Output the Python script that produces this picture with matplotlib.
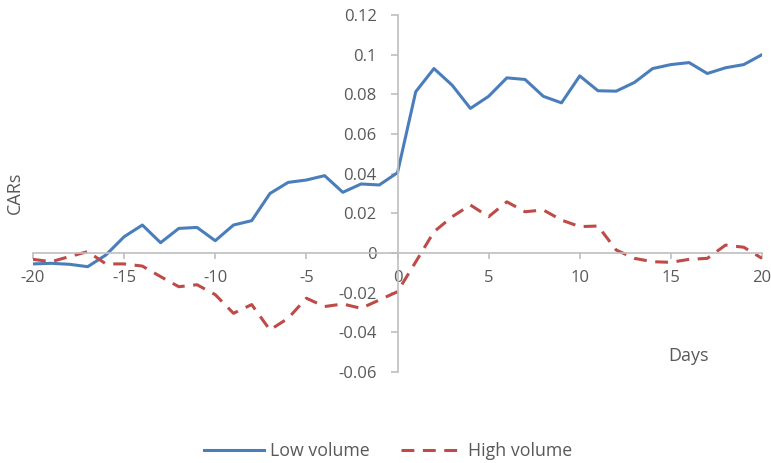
import matplotlib
matplotlib.use("Agg")
import matplotlib.pyplot as plt

plt.rcParams['font.family'] = ['Open Sans', 'DejaVu Sans']

days = list(range(-20, 21))
low_volume = [-0.0055, -0.0052, -0.0057, -0.0069, -0.0010, 0.0082, 0.0141, 0.0052,
              0.0124, 0.0129, 0.0062, 0.0141, 0.0163, 0.0300, 0.0356, 0.0368,
              0.0390, 0.0306, 0.0348, 0.0343, 0.0405, 0.0813, 0.0930, 0.0846,
              0.0729, 0.0790, 0.0883, 0.0875, 0.0790, 0.0757, 0.0893, 0.0818,
              0.0816, 0.0860, 0.0930, 0.0950, 0.0960, 0.0905, 0.0934, 0.0950, 0.1000]
high_volume = [-0.0032, -0.0044, -0.0018, 0.0007, -0.0055, -0.0055, -0.0066, -0.0119,
               -0.0170, -0.0160, -0.0210, -0.0304, -0.0260, -0.0388, -0.0329, -0.0228,
               -0.0270, -0.0257, -0.0279, -0.0237, -0.0195, -0.0045, 0.0107, 0.0183,
               0.0242, 0.0183, 0.0258, 0.0208, 0.0217, 0.0166, 0.0133, 0.0136,
               0.0015, -0.0027, -0.0044, -0.0047, -0.0032, -0.0027, 0.0040, 0.0029, -0.0027]

x_ticks = [-20, -15, -10, -5, 0, 5, 10, 15, 20]
x_tick_labels = ['-20', '-15', '-10', '-5', '0', '5', '10', '15', '20']
y_ticks = [-0.06, -0.04, -0.02, 0, 0.02, 0.04, 0.06, 0.08, 0.1, 0.12]
y_tick_labels = ['-0.06', '-0.04', '-0.02', '0', '0.02', '0.04', '0.06', '0.08', '0.1', '0.12']

text_color = '#595959'
axis_color = '#BFBFBF'

fig = plt.figure(figsize=(7.71, 4.63), dpi=100)
ax = fig.add_axes([33/771, 1-372/463, (762-33)/771, (372-15)/463])

ax.plot(days, low_volume, color='#4A7EBB', lw=2.2, label='Low volume', solid_joinstyle='round')
ax.plot(days, high_volume, color='#BE4B48', lw=2.2, label='High volume',
        dashes=(4.2, 2.8), dash_capstyle='butt')

ax.set_xlim(-20, 20)
ax.set_ylim(-0.06, 0.12)

for s in ['top', 'right']:
    ax.spines[s].set_visible(False)
ax.spines['left'].set_position(('data', 0))
ax.spines['bottom'].set_position(('data', 0))
for s in ['left', 'bottom']:
    ax.spines[s].set_color(axis_color)
    ax.spines[s].set_linewidth(1.2)

ax.set_xticks(x_ticks)
ax.set_xticklabels(x_tick_labels)
ax.set_yticks(y_ticks)
ax.set_yticklabels(y_tick_labels)
ax.tick_params(axis='both', colors=axis_color, labelcolor=text_color, labelsize=12,
               direction='out', width=1.2)
ax.tick_params(axis='y', length=5, pad=10)
ax.tick_params(axis='x', length=4, pad=8)

fig.text(15/771, 1-193/463, 'CARs', rotation=90, ha='center', va='center',
         color=text_color, fontsize=13)
fig.text(688/771, 1-356/463, 'Days', ha='center', va='center',
         color=text_color, fontsize=13)

fig.legend(loc='center', bbox_to_anchor=(0.503, 1-451/463), ncol=2, frameon=False,
           fontsize=12.8, handlelength=3.4, columnspacing=1.75, handletextpad=0.35,
           labelcolor=text_color)

fig.savefig('out.png', dpi=100)
